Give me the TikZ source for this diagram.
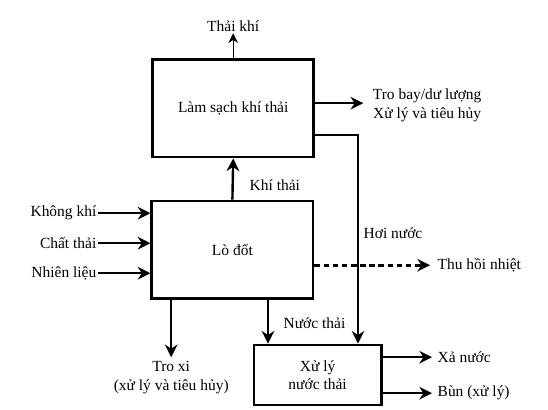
\documentclass[tikz,border=0pt]{standalone}
\usepackage{fontspec}
\setmainfont{Liberation Serif}
\usepackage{tikz}
\usetikzlibrary{arrows.meta, positioning}

\begin{document}
\begin{tikzpicture}[
    every node/.style = {align=center, font=\fontsize{11}{13}\selectfont},
    unit/.style     = {rectangle, draw=black, line width=2pt, fill=white},
    bigunit/.style  = {unit, minimum width=4.03cm, minimum height=2.43cm},
    smallunit/.style= {unit, minimum width=3.18cm, minimum height=1.5cm},
    lbl/.style      = {inner sep=1pt},
    arrow/.style    = {-{Stealth[length=9pt, width=9pt]}, line width=1.7pt},
    thinarrow/.style= {-{Stealth[length=7pt, width=7pt]}, line width=0.7pt},
    heatarrow/.style= {arrow, dash pattern=on 4pt off 2.5pt, line width=2pt},
]
\useasboundingbox (0,0) rectangle (13.7,-10.25);

% --- Thiet bi chinh ---
\node[bigunit]   (clean)   at (5.83,-2.71) {Làm sạch khí thải};
\node[bigunit]   (furnace) at (5.81,-6.24) {Lò đốt};
\node[smallunit] (wwt)     at (7.94,-9.375) {Xử lý\\nước thải};

% --- Diem dau / cuoi ---
\coordinate (exhaust) at (5.83,-0.83);
\coordinate (flyash)  at (9.08,-2.58);
\coordinate (steam)   at (8.95,-3.38);
\coordinate (air)     at (2.45,-5.33);
\coordinate (waste)   at (2.45,-6.08);
\coordinate (fuel)    at (2.45,-6.83);
\coordinate (heat)    at (10.75,-6.63);
\coordinate (slag)    at (4.28,-8.93);
\coordinate (drain)   at (10.8,-8.93);
\coordinate (sludge)  at (10.8,-9.83);

% --- Nhan ---
\node[lbl, above]       (exhaustlbl) at (exhaust) {Thải khí};
\node[lbl, anchor=west] (flyashlbl)  at (9.28,-2.63) {Tro bay/dư lượng\\Xử lý và tiêu hủy};
\node[lbl, anchor=west] (steamlbl)   at (9.05,-5.83) {Hơi nước};
\node[lbl, anchor=west] (fluelbl)    at (6.2,-4.63) {Khí thải};
\node[lbl, anchor=east] (airlbl)     at (air)   {Không khí};
\node[lbl, anchor=east] (wastelbl)   at (waste) {Chất thải};
\node[lbl, anchor=east] (fuellbl)    at (fuel)  {Nhiên liệu};
\node[lbl, anchor=west] (heatlbl)    at (10.9,-6.63) {Thu hồi nhiệt};
\node[lbl, below=2pt of slag] (slaglbl) {Tro xi\\(xử lý và tiêu hủy)};
\node[lbl, anchor=west] (wwlbl)      at (7.05,-8.08) {Nước thải};
\node[lbl, anchor=west] (drainlbl)   at (10.9,-8.93) {Xả nước};
\node[lbl, anchor=west] (sludgelbl)  at (10.9,-9.83) {Bùn (xử lý)};

% --- Panah ---
\draw[thinarrow] (clean.north) -- (exhaust);
\draw[arrow] (clean.east |- flyash) -- (flyash);
\draw[arrow] (clean.east |- steam) -- (steam) -- (steam |- wwt.north);
\draw[arrow] (furnace.north) -- (clean.south);
\draw[arrow] (air)   -- (furnace.west |- air);
\draw[arrow] (waste) -- (furnace.west |- waste);
\draw[arrow] (fuel)  -- (furnace.west |- fuel);
\draw[heatarrow] (furnace.east |- heat) -- (heat);
\draw[arrow] (furnace.south -| slag) -- (slag);
\draw[arrow] (furnace.south -| 6.7,0) -- (6.7,0 |- wwt.north);
\draw[arrow] (wwt.east |- drain) -- (drain);
\draw[arrow] (wwt.east |- sludge) -- (sludge);

\end{tikzpicture}
\end{document}
